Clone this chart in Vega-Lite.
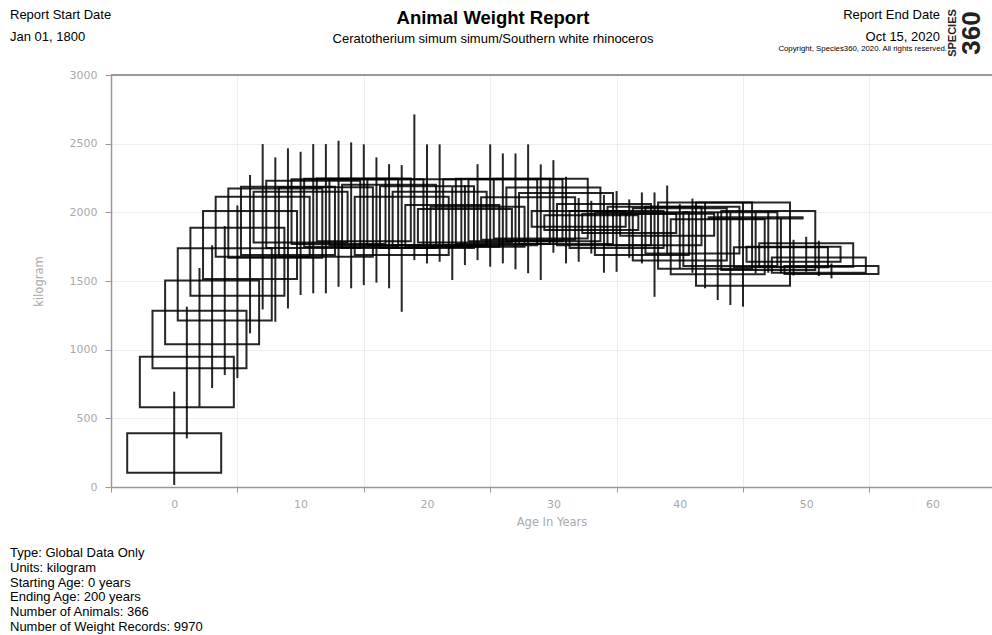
{
  "$schema": "https://vega.github.io/schema/vega-lite/v6.json",
  "width": 881,
  "height": 412,
  "autosize": {"type": "none"},
  "padding": {"left": 111, "top": 75, "right": 0, "bottom": 148},
  "background": "white",
  "config": {
    "view": {"stroke": null},
    "axis": {
      "labelFont": "DejaVu Sans", "titleFont": "DejaVu Sans",
      "labelColor": "#aaaaaa", "titleColor": "#aaaaaa", "titleFontWeight": "normal",
      "labelFontSize": 11, "titleFontSize": 11.5,
      "domainColor": "#999999", "domainWidth": 1.5, "tickColor": "#999999",
      "gridColor": "#eeeeee", "gridWidth": 1
    }
  },
  "data": {"values": [
    {"age": 0, "lo": 15, "q1": 104, "q3": 391, "hi": 694},
    {"age": 1, "lo": 354, "q1": 580, "q3": 949, "hi": 1313},
    {"age": 2, "lo": 585, "q1": 864, "q3": 1284, "hi": 1595},
    {"age": 3, "lo": 720, "q1": 1039, "q3": 1504, "hi": 1760},
    {"age": 4, "lo": 815, "q1": 1212, "q3": 1738, "hi": 1900},
    {"age": 5, "lo": 793, "q1": 1393, "q3": 1888, "hi": 2050},
    {"age": 6, "lo": 1119, "q1": 1514, "q3": 2009, "hi": 2272},
    {"age": 7, "lo": 1293, "q1": 1677, "q3": 2113, "hi": 2497},
    {"age": 8, "lo": 1203, "q1": 1670, "q3": 2174, "hi": 2400},
    {"age": 9, "lo": 1300, "q1": 1690, "q3": 2186, "hi": 2466},
    {"age": 10, "lo": 1398, "q1": 1780, "q3": 2150, "hi": 2441},
    {"age": 11, "lo": 1410, "q1": 1740, "q3": 2230, "hi": 2497},
    {"age": 12, "lo": 1410, "q1": 1677, "q3": 2182, "hi": 2497},
    {"age": 13, "lo": 1458, "q1": 1770, "q3": 2240, "hi": 2521},
    {"age": 14, "lo": 1447, "q1": 1750, "q3": 2245, "hi": 2509},
    {"age": 15, "lo": 1470, "q1": 1790, "q3": 2247, "hi": 2495},
    {"age": 16, "lo": 1488, "q1": 1760, "q3": 2240, "hi": 2400},
    {"age": 17, "lo": 1447, "q1": 1740, "q3": 2200, "hi": 2351},
    {"age": 18, "lo": 1276, "q1": 1690, "q3": 2113, "hi": 2344},
    {"age": 19, "lo": 1652, "q1": 1760, "q3": 2240, "hi": 2713},
    {"age": 20, "lo": 1628, "q1": 1740, "q3": 2190, "hi": 2495},
    {"age": 21, "lo": 1640, "q1": 1760, "q3": 2150, "hi": 2495},
    {"age": 22, "lo": 1507, "q1": 1750, "q3": 2053, "hi": 2184},
    {"age": 23, "lo": 1616, "q1": 1780, "q3": 2024, "hi": 2199},
    {"age": 24, "lo": 1652, "q1": 1750, "q3": 2040, "hi": 2351},
    {"age": 25, "lo": 1604, "q1": 1760, "q3": 2240, "hi": 2495},
    {"age": 26, "lo": 1628, "q1": 1770, "q3": 2245, "hi": 2429},
    {"age": 27, "lo": 1585, "q1": 1790, "q3": 2240, "hi": 2429},
    {"age": 28, "lo": 1556, "q1": 1800, "q3": 2110, "hi": 2495},
    {"age": 29, "lo": 1507, "q1": 1810, "q3": 2245, "hi": 2349},
    {"age": 30, "lo": 1706, "q1": 1790, "q3": 2180, "hi": 2380},
    {"age": 31, "lo": 1628, "q1": 1770, "q3": 2140, "hi": 2259},
    {"age": 32, "lo": 1640, "q1": 1895, "q3": 2010, "hi": 2104},
    {"age": 33, "lo": 1700, "q1": 1871, "q3": 1978, "hi": 2084},
    {"age": 34, "lo": 1560, "q1": 1760, "q3": 2060, "hi": 2126},
    {"age": 35, "lo": 1567, "q1": 1740, "q3": 2010, "hi": 2155},
    {"age": 36, "lo": 1669, "q1": 1850, "q3": 1990, "hi": 2094},
    {"age": 37, "lo": 1628, "q1": 1690, "q3": 2000, "hi": 2145},
    {"age": 38, "lo": 1385, "q1": 1760, "q3": 2040, "hi": 2145},
    {"age": 39, "lo": 1700, "q1": 1830, "q3": 1990, "hi": 2195},
    {"age": 40, "lo": 1590, "q1": 1650, "q3": 2030, "hi": 2060},
    {"age": 41, "lo": 1560, "q1": 1700, "q3": 2040, "hi": 2100},
    {"age": 42, "lo": 1447, "q1": 1590, "q3": 2072, "hi": 2072},
    {"age": 43, "lo": 1361, "q1": 1550, "q3": 1950, "hi": 2000},
    {"age": 44, "lo": 1325, "q1": 1610, "q3": 2000, "hi": 2000},
    {"age": 45, "lo": 1313, "q1": 1466, "q3": 2072, "hi": 2072},
    {"age": 46, "lo": 1556, "q1": 1955, "q3": 1965, "hi": 2000},
    {"age": 47, "lo": 1560, "q1": 1580, "q3": 2009, "hi": 2009},
    {"age": 48, "lo": 1555, "q1": 1600, "q3": 1745, "hi": 1960},
    {"age": 49, "lo": 1540, "q1": 1640, "q3": 1750, "hi": 1800},
    {"age": 50, "lo": 1567, "q1": 1604, "q3": 1774, "hi": 1822},
    {"age": 51, "lo": 1536, "q1": 1560, "q3": 1672, "hi": 1793},
    {"age": 52, "lo": 1519, "q1": 1551, "q3": 1609, "hi": 1628}
  ]},
  "layer": [
    {
      "mark": {"type": "rule", "color": "#999999", "strokeWidth": 1.5},
      "encoding": {"y": {"datum": 3000, "type": "quantitative", "title": "kilogram"}}
    },
    {
      "mark": {"type": "rule", "color": "#000000", "strokeWidth": 2, "opacity": 0.85},
      "encoding": {
        "x": {"field": "age", "type": "quantitative", "title": "Age In Years"},
        "y": {"field": "lo", "type": "quantitative", "title": "kilogram"},
        "y2": {"field": "hi"}
      }
    },
    {
      "mark": {"type": "bar", "width": 94, "fill": "transparent", "stroke": "#000000", "strokeWidth": 2, "strokeOpacity": 0.85},
      "encoding": {
        "x": {
          "field": "age", "type": "quantitative", "title": "Age In Years",
          "scale": {"domain": [-5, 64.7], "nice": false, "zero": false, "padding": 0},
          "axis": {
            "values": [-5, 5, 15, 25, 35, 45, 55],
            "labelExpr": "format(datum.value + 5, 'd')",
            "labelOffset": 63.2,
            "tickSize": 5,
            "labelPadding": 6,
            "titlePadding": 7,
            "grid": true,
            "labelFlush": false
          }
        },
        "y": {
          "field": "q1", "type": "quantitative", "title": "kilogram",
          "scale": {"domain": [0, 3000], "nice": false, "padding": 0},
          "axis": {
            "values": [0,125,250,375,500,625,750,875,1000,1125,1250,1375,1500,1625,1750,1875,2000,2125,2250,2375,2500,2625,2750,2875,3000],
            "format": "d",
            "labelExpr": "datum.value % 500 === 0 ? datum.label : ''",
            "tickSize": {"condition": {"test": "datum.value % 500 === 0", "value": 6}, "value": 3},
            "labelPadding": 8,
            "titlePadding": 25,
            "grid": true
          }
        },
        "y2": {"field": "q3"}
      }
    },
    {
      "data": {"values": [{}]},
      "mark": {"type": "text", "text": "Report Start Date", "align": "left", "baseline": "middle", "font": "Liberation Sans", "fontSize": 13, "color": "#000000"},
      "encoding": {"x": {"value": -101}, "y": {"value": -60}}
    },
    {
      "data": {"values": [{}]},
      "mark": {"type": "text", "text": "Jan 01, 1800", "align": "left", "baseline": "middle", "font": "Liberation Sans", "fontSize": 13, "color": "#000000"},
      "encoding": {"x": {"value": -101}, "y": {"value": -38}}
    },
    {
      "data": {"values": [{}]},
      "mark": {"type": "text", "text": "Animal Weight Report", "align": "center", "baseline": "middle", "font": "Liberation Sans", "fontSize": 18.5, "fontWeight": "bold", "color": "#000000"},
      "encoding": {"x": {"value": 382}, "y": {"value": -57}}
    },
    {
      "data": {"values": [{}]},
      "mark": {"type": "text", "text": "Ceratotherium simum simum/Southern white rhinoceros", "align": "center", "baseline": "middle", "font": "Liberation Sans", "fontSize": 13, "color": "#000000"},
      "encoding": {"x": {"value": 382}, "y": {"value": -36}}
    },
    {
      "data": {"values": [{}]},
      "mark": {"type": "text", "text": "Report End Date", "align": "right", "baseline": "middle", "font": "Liberation Sans", "fontSize": 13, "color": "#000000"},
      "encoding": {"x": {"value": 829}, "y": {"value": -60}}
    },
    {
      "data": {"values": [{}]},
      "mark": {"type": "text", "text": "Oct 15, 2020", "align": "right", "baseline": "middle", "font": "Liberation Sans", "fontSize": 13, "color": "#000000"},
      "encoding": {"x": {"value": 829}, "y": {"value": -38}}
    },
    {
      "data": {"values": [{}]},
      "mark": {"type": "text", "text": "Copyright, Species360, 2020. All rights reserved.", "align": "right", "baseline": "middle", "font": "Liberation Sans", "fontSize": 7.8, "color": "#000000"},
      "encoding": {"x": {"value": 836}, "y": {"value": -26}}
    },
    {
      "data": {"values": [{}]},
      "mark": {"type": "text", "text": "SPECIES", "angle": 270, "align": "center", "baseline": "middle", "font": "Liberation Sans", "fontSize": 11, "fontWeight": "bold", "color": "#222222"},
      "encoding": {"x": {"value": 842}, "y": {"value": -42}}
    },
    {
      "data": {"values": [{}]},
      "mark": {"type": "text", "text": "360", "angle": 270, "align": "center", "baseline": "middle", "font": "Liberation Sans", "fontSize": 26, "fontWeight": "bold", "color": "#222222"},
      "encoding": {"x": {"value": 861}, "y": {"value": -42}}
    },
    {
      "data": {"values": [{}]},
      "mark": {"type": "text", "text": ["Type: Global Data Only", "Units: kilogram", "Starting Age: 0 years", "Ending Age: 200 years", "Number of Animals: 366", "Number of Weight Records: 9970"], "align": "left", "baseline": "top", "lineHeight": 14.8, "font": "Liberation Sans", "fontSize": 13, "color": "#000000"},
      "encoding": {"x": {"value": -101}, "y": {"value": 472}}
    }
  ]
}
